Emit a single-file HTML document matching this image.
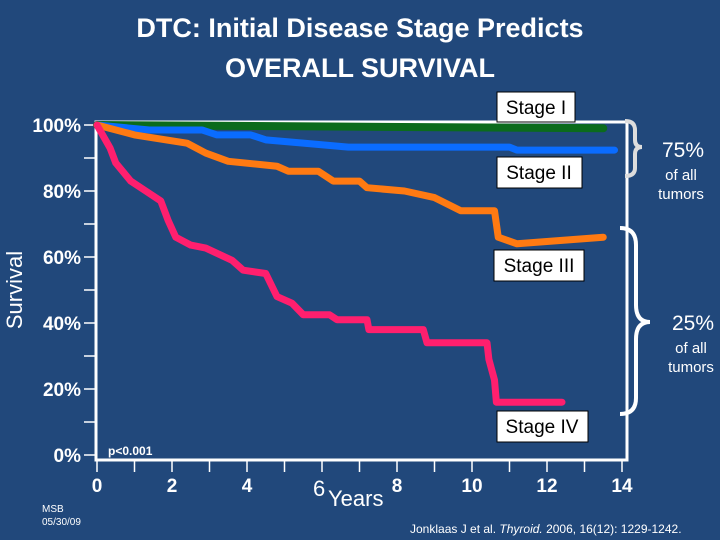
<!DOCTYPE html>
<html><head><meta charset="utf-8"><style>
body{margin:0;background:#21487b;}
svg{display:block;font-family:"Liberation Sans",sans-serif;}
</style></head><body>
<svg width="720" height="540" viewBox="0 0 720 540">
<rect width="720" height="540" fill="#21487b"/>
<text x="360" y="37" fill="#fff" font-size="27" font-weight="bold" text-anchor="middle">DTC: Initial Disease Stage Predicts</text>
<text x="360" y="77" fill="#fff" font-size="27" font-weight="bold" text-anchor="middle">OVERALL SURVIVAL</text>
<g id="axes"></g>
<g id="series"></g>
<text x="22" y="290" fill="#fff" font-size="22" text-anchor="middle" transform="rotate(-90 22 290)">Survival</text>
<text x="313" y="496" fill="#fff" font-size="22">6</text>
<text x="328" y="506" fill="#fff" font-size="22">Years</text>
<text x="108" y="455" fill="#fff" font-size="12" font-weight="bold">p&lt;0.001</text>
<text x="42" y="512" fill="#fff" font-size="10">MSB</text>
<text x="42" y="525" fill="#fff" font-size="10">05/30/09</text>
<text x="410" y="533" fill="#fff" font-size="12">Jonklaas  J et al. <tspan font-style="italic">Thyroid.</tspan> 2006, 16(12): 1229-1242.</text>
<g>
<rect x="497" y="92" width="78" height="30" fill="#fff" stroke="#000"/>
<text x="536" y="114" font-size="19" text-anchor="middle">Stage I</text>
<rect x="497" y="157" width="85" height="31" fill="#fff" stroke="#000"/>
<text x="539" y="179" font-size="19" text-anchor="middle">Stage II</text>
<rect x="494" y="250" width="90" height="31" fill="#fff" stroke="#000"/>
<text x="539" y="272" font-size="19" text-anchor="middle">Stage III</text>
<rect x="497" y="411" width="91" height="31" fill="#fff" stroke="#000"/>
<text x="542" y="433" font-size="19" text-anchor="middle">Stage IV</text>
</g>
<path d="M625,121 Q635,121 635,130 L635,140 Q635,147 642,147 Q635,147 635,154 L635,168 Q635,176 625,176" fill="none" stroke="#ddd" stroke-width="4"/>
<text x="683" y="157" fill="#fff" font-size="21" text-anchor="middle">75%</text>
<text x="681" y="180" fill="#fff" font-size="15" text-anchor="middle">of all</text>
<text x="681" y="199" fill="#fff" font-size="15" text-anchor="middle">tumors</text>
<path d="M620,228 Q636,228 636,245 L636,305 Q636,322 650,322 Q636,322 636,339 L636,398 Q636,414 620,414" fill="none" stroke="#fff" stroke-width="4"/>
<text x="693" y="330" fill="#fff" font-size="21" text-anchor="middle">25%</text>
<text x="691" y="353" fill="#fff" font-size="15" text-anchor="middle">of all</text>
<text x="691" y="372" fill="#fff" font-size="15" text-anchor="middle">tumors</text>
</svg>
<script>
const yTicks=[0,20,40,60,80,100];
const xTicks=[0,2,4,6,8,10,12,14];
const stage1T=[0,13.5];
const stage1S=[100,99];
const stage2T=[0,1.4,2.8,3.2,4.1,4.5,5.5,6.7,11,11.2,13.8];
const stage2S=[100,98.5,98.5,97,97,95.5,94.5,93.3,93.3,92.4,92.4];
const stage3T=[0,1,2.4,2.9,3.5,4.8,5.1,5.9,6.3,7,7.2,8.2,9,9.7,10.6,10.7,11.2,13.5];
const stage3S=[100,97,94.5,91.5,89,87.5,86,86,83,83,81,80,78,74,74,66,64,66];
const stage4T=[0,0.35,0.5,0.9,1.3,1.7,1.9,2.1,2.5,2.9,3.6,3.9,4.5,4.8,5.2,5.5,6.2,6.4,7.2,7.25,8.7,8.8,10.4,10.45,10.6,10.65,12.4];
const stage4S=[100,93,88.5,83,80,77,71,66,63.6,62.7,59,56,55,48,46,42.5,42.5,41,41,38,38,34,34,29,22.7,16,16];
const NS='http://www.w3.org/2000/svg';
const x=t=>97+t*37.5;
const y=s=>455-s*3.3;
function mk(tag,attrs,parent){const e=document.createElementNS(NS,tag);for(const k in attrs)e.setAttribute(k,attrs[k]);parent.appendChild(e);return e;}
const ax=document.getElementById('axes');
let e=mk('path',{d:`M96,460 L96,122 L627,122 L627,460 Z`,fill:'none',stroke:'#fff','stroke-width':3},ax);


for(let p=0;p<=100;p+=10){
  e=mk('line',{x1:84,x2:96,y1:y(p),y2:y(p),stroke:'#fff','stroke-width':1.5},ax);
  
  
}
yTicks.forEach(p=>{
  e=mk('text',{x:81,y:y(p)+7,fill:'#fff','font-size':19,'font-weight':'bold','text-anchor':'end'},ax);
  e.textContent=p+'%';
  
  
});
for(let t=0;t<=14;t++){
  e=mk('line',{x1:x(t),x2:x(t),y1:460,y2:472,stroke:'#fff','stroke-width':1.5},ax);
  
  
}
xTicks.forEach(t=>{
  if(t===6)return;
  e=mk('text',{x:x(t),y:492,fill:'#fff','font-size':19,'font-weight':'bold','text-anchor':'middle'},ax);
  e.textContent=t;
  
  
});
const sg=document.getElementById('series');
function line(T,S,color,w,name){
  const pts=T.map((t,i)=>x(t)+','+y(S[i])).join(' ');
  const el=mk('polyline',{points:pts,fill:'none',stroke:color,'stroke-width':w,'stroke-linejoin':'round','stroke-linecap':'round'},sg);
  
  
}
line(stage1T,stage1S,'#0b6b1c',8,'stage-1-line');
line(stage2T,stage2S,'#0a6cff',7,'stage-2-line');
line(stage3T,stage3S,'#ff7a12',7,'stage-3-line');
line(stage4T,stage4S,'#ff1f6e',7,'stage-4-line');
</script>
</body></html>
